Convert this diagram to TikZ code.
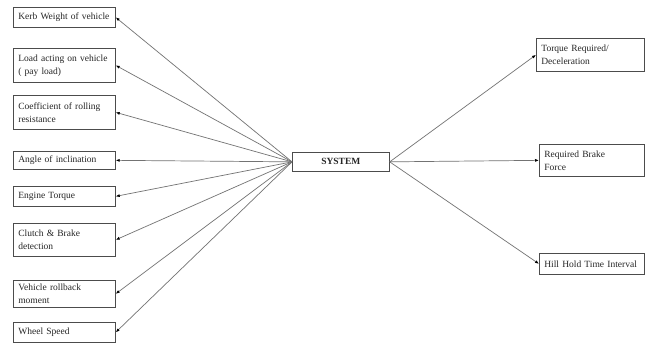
\documentclass[tikz,border=0pt]{standalone}
\usepackage{fontspec}
\setmainfont{Liberation Serif}
\usetikzlibrary{arrows.meta}
\hyphenpenalty=10000
\exhyphenpenalty=10000
\begin{document}
\begin{tikzpicture}[x=1pt,y=-1pt,
  box/.style={draw=black!70,line width=0.7pt,anchor=north west,inner xsep=5pt,inner ysep=1pt,
    align=left,font=\fontsize{9.5}{13}\selectfont,text=black!85},
  lbox/.style={box,text width=92pt},
  conn/.style={draw=black!55,line width=0.7pt,-{Latex[length=4pt,width=3pt,black]}}]
\useasboundingbox[fill=white] (0,0) rectangle (645,344);
% input boxes
\node[lbox,minimum height=20pt] (b1) at (13,7) {Kerb Weight of vehicle};
\node[lbox,minimum height=34pt] (b2) at (13,48) {Load acting on vehicle\\( pay load)};
\node[lbox,minimum height=34pt] (b3) at (13,95) {Coefficient of rolling\\resistance};
\node[lbox,minimum height=18pt] (b4) at (13,151) {Angle of inclination};
\node[lbox,minimum height=20pt] (b5) at (13,186) {Engine Torque};
\node[lbox,minimum height=33pt] (b6) at (13,223) {Clutch \& Brake\\detection};
\node[lbox,minimum height=27pt] (b7) at (13,280) {Vehicle rollback\\moment};
\node[lbox,minimum height=20pt] (b8) at (13,322) {Wheel Speed};
% system
\node[box,minimum width=97pt,minimum height=19pt,align=center,font=\fontsize{9.5}{11}\selectfont\bfseries] (sys) at (292,152) {SYSTEM};
% outputs
\node[box,text width=98pt,minimum height=33pt] (o1) at (536,38) {Torque Required/\\Deceleration};
\node[box,text width=95pt,minimum height=32pt] (o2) at (539,144) {Required Brake\\Force};
\node[box,text width=95pt,minimum height=21pt] (o3) at (539,253) {Hill Hold Time Interval};
% connectors
\foreach \b in {b1,b2,b3,b4,b5,b6,b7,b8}
  \draw[conn] (sys.west) -- (\b.east);
\draw[conn] (sys.east) -- (o1.west);
\draw[conn] (sys.east) -- (o2.west);
\draw[conn] (sys.east) -- (o3.west);
\end{tikzpicture}
\end{document}
